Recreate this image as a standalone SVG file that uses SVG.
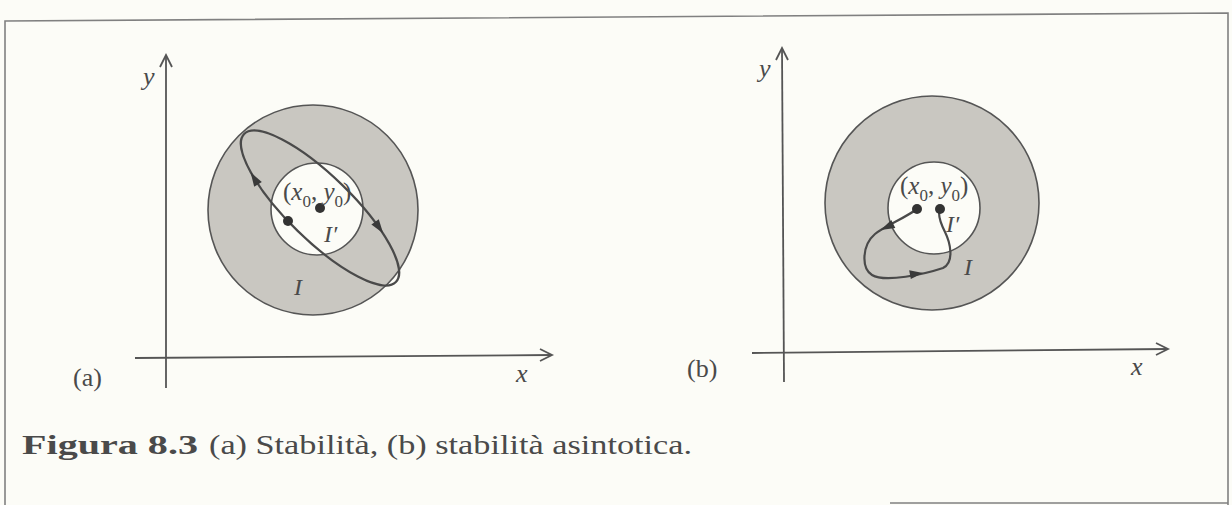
<svg xmlns="http://www.w3.org/2000/svg" width="1232" height="505" viewBox="0 0 1232 505">
<style>
.ax{stroke:#555;stroke-width:1.8;fill:none}
.ln{stroke:#4a4a4a;stroke-width:2.2;fill:none}
.ring{fill:#c9c7c1;stroke:#555;stroke-width:1.6}
.hole{fill:#fcfcf7;stroke:#555;stroke-width:1.6}
.dot{fill:#333}
.ah{fill:#3a3a3a}
.t{font-family:"Liberation Serif","Times New Roman",Tinos,serif;fill:#4a4a4a}
.m{font-family:"Liberation Serif","Times New Roman",Tinos,serif;font-style:italic;fill:#4a4a4a}
</style>
<rect x="0" y="0" width="1232" height="505" fill="#fcfcf7"/>
<g id="frame">
<polyline points="5,505 5,21 1228,13 1228,505" fill="none" stroke="#808080" stroke-width="1.6"/>
<line x1="890" y1="503" x2="1228" y2="503" stroke="#808080" stroke-width="1.6"/>
</g>
<g id="fig-a">
<g id="a-region-I"><circle class="ring" cx="313" cy="210" r="105"/></g>
<g id="a-region-Iprime"><circle class="hole" cx="317" cy="209" r="46"/></g>
<g id="a-axes">
<line class="ax" x1="166" y1="388" x2="166" y2="55"/>
<polyline class="ax" points="160,67 166,55 172,67"/>
<line class="ax" x1="135" y1="358" x2="552" y2="355"/>
<polyline class="ax" points="540,349 552,355 540,361"/>
</g>
<g id="a-connectors">
<ellipse class="ln" cx="320" cy="208" rx="106" ry="32" transform="rotate(44.3 320 208)"/>
<polygon class="ah" points="250.6,172.3 261.8,181.9 254.2,186.7"/>
<polygon class="ah" points="383.1,233.3 371.4,224.5 378.8,219.3"/>
</g>
<g id="a-points">
<circle class="dot" cx="320" cy="208" r="5"/>
<circle class="dot" cx="288" cy="221" r="5"/>
</g>
<g id="a-labels">
<text class="t" x="283" y="200" font-size="25">(<tspan class="m">x</tspan><tspan font-size="17" dy="7">0</tspan><tspan dy="-7">, </tspan><tspan class="m">y</tspan><tspan font-size="17" dy="7">0</tspan><tspan dy="-7">)</tspan></text>
<text class="m" x="324" y="242" font-size="24">I′</text>
<text class="m" x="294" y="295" font-size="24">I</text>
<text class="m" x="143" y="85" font-size="26">y</text>
<text class="m" x="516" y="382" font-size="26">x</text>
<text class="t" x="73" y="386" font-size="26">(a)</text>
</g>
</g>
<g id="fig-b">
<g id="b-region-I"><circle class="ring" cx="932" cy="203" r="107"/></g>
<g id="b-region-Iprime"><circle class="hole" cx="934" cy="208" r="46"/></g>
<g id="b-axes">
<line class="ax" x1="784" y1="382" x2="782" y2="48"/>
<polyline class="ax" points="776,60 782,48 788,60"/>
<line class="ax" x1="752" y1="353" x2="1168" y2="349"/>
<polyline class="ax" points="1156,343 1168,349 1156,355"/>
</g>
<g id="b-connectors">
<path class="ln" d="M917,209 C905,218 885,226 875,234 C862,245 861,268 872,275 C885,283 925,274 943,268 C955,262 950,242 945,232 C941,224 937,215 940,209"/>
<polygon class="ah" points="880.7,230.1 891.3,219.9 895.3,227.9"/>
<polygon class="ah" points="923,273 909.2,270.3 910.8,279.1"/>
</g>
<g id="b-points">
<circle class="dot" cx="917" cy="209" r="5"/>
<circle class="dot" cx="940" cy="209" r="5"/>
</g>
<g id="b-labels">
<text class="t" x="900" y="194" font-size="25">(<tspan class="m">x</tspan><tspan font-size="17" dy="7">0</tspan><tspan dy="-7">, </tspan><tspan class="m">y</tspan><tspan font-size="17" dy="7">0</tspan><tspan dy="-7">)</tspan></text>
<text class="m" x="946" y="232" font-size="24">I′</text>
<text class="m" x="964" y="275" font-size="24">I</text>
<text class="m" x="759" y="77" font-size="26">y</text>
<text class="m" x="1131" y="375" font-size="26">x</text>
<text class="t" x="687" y="377" font-size="26">(b)</text>
</g>
</g>
<g id="caption">
<text class="t" x="22" y="454" font-size="27" font-weight="bold" textLength="176" lengthAdjust="spacingAndGlyphs">Figura 8.3</text>
<text class="t" x="209" y="454" font-size="27" textLength="483" lengthAdjust="spacingAndGlyphs">(a) Stabilità, (b) stabilità asintotica.</text>
</g>
</svg>
